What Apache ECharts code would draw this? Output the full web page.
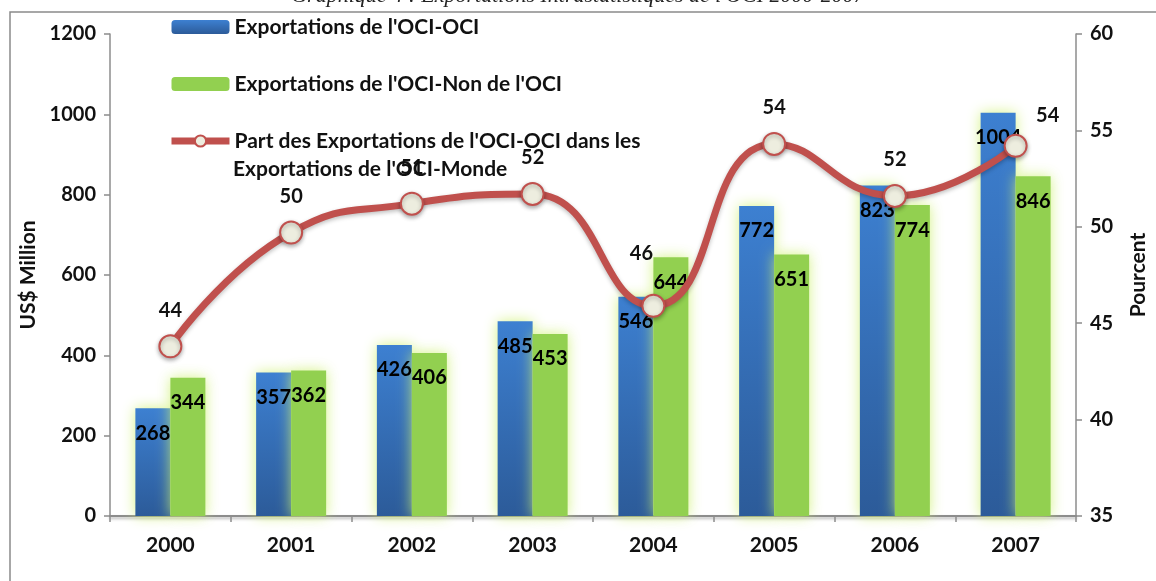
<!DOCTYPE html>
<html>
<head>
<meta charset="utf-8">
<script src="https://cdn.jsdelivr.net/npm/echarts@6/dist/echarts.min.js"></script>
<style>
  html, body { margin: 0; padding: 0; background: #fff; }
  #chart { width: 1156px; height: 581px; }
</style>
</head>
<body>
<div id="chart"></div>
<script>
  // data
  var years = ['2000', '2001', '2002', '2003', '2004', '2005', '2006', '2007'];
  var intraOci = [268, 357, 426, 485, 546, 772, 823, 1004];
  var nonOci = [344, 362, 406, 453, 644, 651, 774, 846];
  var partPct = [43.8, 49.7, 51.2, 51.7, 45.9, 54.3, 51.6, 54.2];

  var nameA = "Exportations de l'OCI-OCI";
  var nameB = "Exportations de l'OCI-Non de l'OCI";
  var nameC = "Part des Exportations de l'OCI-OCI dans les";
  var nameC2 = "Exportations de l'OCI-Monde";

  var font = 'Lato';
  var lineColor = '#c0504d';

  var chart = echarts.init(document.getElementById('chart'));

  var lineData = partPct.map(function (v, i) {
    var item = { value: v };
    if (i === 7) item.label = { offset: [32, 6] };
    if (i === 4) item.label = { offset: [-12, -16] };
    return item;
  });

  var option = {
    backgroundColor: '#fff',
    textStyle: { fontFamily: font },
    graphic: [
      {
        type: 'rect',
        shape: { x: 10, y: 12, width: 1200, height: 620 },
        style: { fill: 'none', stroke: '#8a8a8a', lineWidth: 1.5 },
        silent: true
      },
      {
        type: 'text',
        left: 'center',
        top: -15,
        style: {
          text: "Graphique 4 : Exportations Intrastatistiques de l'OCI 2000-2007",
          font: 'italic 22px "Liberation Serif"',
          fill: '#222'
        },
        silent: true
      },
      {
        // second line of the third legend entry
        type: 'text',
        left: 233,
        top: 159,
        z: 1,
        style: {
          text: nameC2,
          font: 'bold 21px Lato',
          fill: '#111'
        },
        silent: true
      }
    ],
    legend: {
      orient: 'vertical',
      left: 163,
      top: 9,
      itemGap: 31,
      itemWidth: 58,
      itemHeight: 14,
      data: [
        nameA,
        nameB,
        {
          name: nameC,
          lineStyle: { width: 7, color: lineColor },
          itemStyle: { color: '#ededdf', borderColor: lineColor, borderWidth: 2 }
        }
      ],
      textStyle: {
        fontFamily: font,
        fontWeight: 'bold',
        fontSize: 21,
        color: '#111',
        lineHeight: 26
      }
    },
    grid: {
      left: 110,
      right: 80,
      top: 34,
      bottom: 65,
      outerBoundsMode: 'none'
    },
    xAxis: {
      type: 'category',
      data: years,
      axisLine: { lineStyle: { color: '#8c8c8c', width: 2, shadowColor: 'rgba(0,0,0,0.3)', shadowBlur: 3, shadowOffsetY: 2 } },
      axisTick: { show: true, length: 6, lineStyle: { color: '#8c8c8c', width: 1.5 } },
      axisLabel: { color: '#111', fontWeight: 'bold', fontSize: 21, margin: 19, fontFamily: font }
    },
    yAxis: [
      {
        type: 'value',
        min: 0,
        max: 1200,
        interval: 200,
        name: 'US$ Million',
        nameLocation: 'middle',
        nameGap: 58,
        nameTextStyle: { color: '#111', fontWeight: 'bold', fontSize: 21, fontFamily: font },
        axisLine: { show: true, lineStyle: { color: '#8c8c8c', width: 1.5 } },
        axisTick: { show: true, length: 6, lineStyle: { color: '#8c8c8c', width: 1.5 } },
        axisLabel: {
          color: '#111', fontWeight: 'bold', fontSize: 20, margin: 14, fontFamily: font,
          formatter: function (v) { return String(v); }
        },
        splitLine: { show: false }
      },
      {
        type: 'value',
        min: 35,
        max: 60,
        interval: 5,
        name: 'Pourcent',
        nameLocation: 'middle',
        nameGap: 52,
        nameTextStyle: { color: '#111', fontWeight: 'bold', fontSize: 21, fontFamily: font },
        axisLine: { show: true, lineStyle: { color: '#8c8c8c', width: 1.5 } },
        axisTick: { show: true, length: 6, lineStyle: { color: '#8c8c8c', width: 1.5 } },
        axisLabel: { color: '#111', fontWeight: 'bold', fontSize: 20, margin: 14, fontFamily: font },
        splitLine: { show: false }
      }
    ],
    series: [
      {
        name: nameA,
        type: 'bar',
        data: intraOci,
        barWidth: 35,
        barGap: '0%',
        itemStyle: {
          color: new echarts.graphic.LinearGradient(0, 0, 0, 1, [
            { offset: 0, color: '#3d80d1' },
            { offset: 1, color: '#2c5b99' }
          ]),
          shadowColor: 'rgba(205,240,110,0.85)',
          shadowBlur: 14
        },
        label: {
          show: true,
          position: 'insideTop',
          distance: 15,
          color: '#000',
          fontWeight: 'bold',
          fontSize: 20,
          fontFamily: font
        }
      },
      {
        name: nameB,
        type: 'bar',
        data: nonOci,
        barWidth: 35,
        barGap: '0%',
        itemStyle: {
          color: '#92d050',
          shadowColor: 'rgba(205,240,110,0.85)',
          shadowBlur: 14
        },
        label: {
          show: true,
          position: 'insideTop',
          distance: 15,
          color: '#000',
          fontWeight: 'bold',
          fontSize: 20,
          fontFamily: font
        }
      },
      {
        name: nameC,
        type: 'line',
        yAxisIndex: 1,
        data: lineData,
        smooth: 0.5,
        symbol: 'circle',
        symbolSize: 22,
        z: 5,
        lineStyle: {
          color: lineColor,
          width: 7,
          shadowColor: 'rgba(0,0,0,0.25)',
          shadowBlur: 4,
          shadowOffsetY: 2
        },
        itemStyle: {
          color: '#ededdf',
          borderColor: lineColor,
          borderWidth: 2,
          shadowColor: 'rgba(0,0,0,0.3)',
          shadowBlur: 4,
          shadowOffsetY: 2
        },
        label: {
          show: true,
          position: 'top',
          distance: 14,
          color: '#111',
          fontWeight: 'bold',
          fontSize: 20,
          fontFamily: font,
          formatter: function (p) {
            return Math.round(p.value);
          }
        }
      }
    ]
  };

  chart.setOption(option);
</script>
</body>
</html>
